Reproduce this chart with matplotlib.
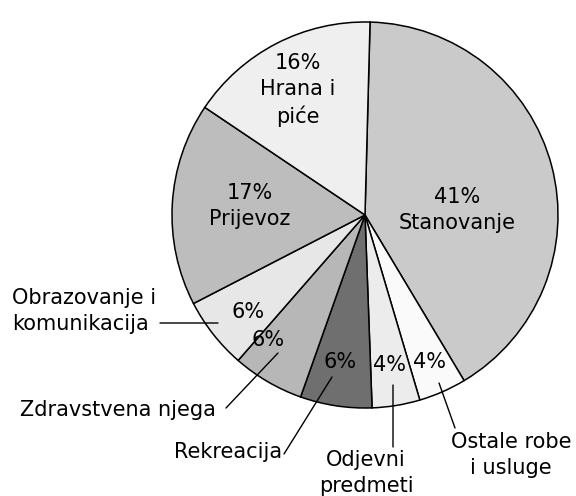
import matplotlib
matplotlib.use('Agg')
import matplotlib.pyplot as plt

# Udio troškova kućanstva
categories = ['Stanovanje', 'Ostale robe i usluge', 'Odjevni predmeti', 'Rekreacija',
              'Zdravstvena njega', 'Obrazovanje i komunikacija', 'Prijevoz', 'Hrana i piće']
shares = [41, 4, 4, 6, 6, 6, 17, 16]
pct_labels = ['41%', '4%', '4%', '6%', '6%', '6%', '17%', '16%']

colors = ['#cacaca', '#fafafa', '#ececec', '#6f6f6f', '#b7b7b7', '#e7e7e7', '#bdbdbd', '#efefef']

W, H = 576, 496
CX, CY, R = 365, 215, 193  # središte i polumjer kruga u pikselima


def fx(px):
    return px / W


def fy(py):
    return 1 - py / H


def to_data(px, py):
    return (px - CX) / R, (CY - py) / R


fig = plt.figure(figsize=(W / 100, H / 100), dpi=100)
ax = fig.add_axes([fx(CX - R), fy(CY + R), 2 * R / W, 2 * R / H])

wedges, _ = ax.pie(shares, colors=colors, startangle=88.5, counterclock=False,
                   wedgeprops=dict(edgecolor='black', linewidth=1.1))
ax.set_xlim(-1, 1)
ax.set_ylim(-1, 1)
ax.set_aspect('auto')
ax.axis('off')

fs = 15
ls = 1.36

# tekst unutar isječaka
inner = [
    (pct_labels[0] + '\nStanovanje', 457, 210),
    (pct_labels[1], 430, 362),
    (pct_labels[2], 389, 365),
    (pct_labels[3], 340, 362),
    (pct_labels[4], 268, 340),
    (pct_labels[5], 248, 312),
    (pct_labels[6] + '\nPrijevoz', 250, 206),
    (pct_labels[7] + '\nHrana i\npiće', 298, 90),
]
for txt, px, py in inner:
    x, y = to_data(px, py)
    ax.text(x, y, txt, ha='center', va='center', fontsize=fs, linespacing=ls)

# vanjski nazivi s linijama
outer = [
    # tekst, poz. teksta, ha, početak linije, kraj linije u isječku
    ('Obrazovanje i\nkomunikacija', (12, 311), 'left', (160, 323), (218, 323)),
    ('Zdravstvena njega', (20, 410), 'left', (226, 408), (278, 353)),
    ('Rekreacija', (282, 452), 'right', (284, 454), (332, 377)),
    ('Odjevni\npredmeti', (366, 473), 'center', (393, 447), (393, 385)),
    ('Ostale robe\ni usluge', (511, 455), 'center', (455, 428), (439, 383)),
]
for txt, (tx, ty), ha, (lx, ly), (ex, ey) in outer:
    fig.text(fx(tx), fy(ty), txt, ha=ha, va='center', fontsize=fs,
             linespacing=ls, multialignment=ha)
    ax.annotate('', xy=to_data(ex, ey), xycoords='data',
                xytext=(fx(lx), fy(ly)), textcoords='figure fraction',
                arrowprops=dict(arrowstyle='-', color='black', lw=1,
                                shrinkA=0, shrinkB=0))

fig.savefig('out.png', dpi=100, facecolor='white')
